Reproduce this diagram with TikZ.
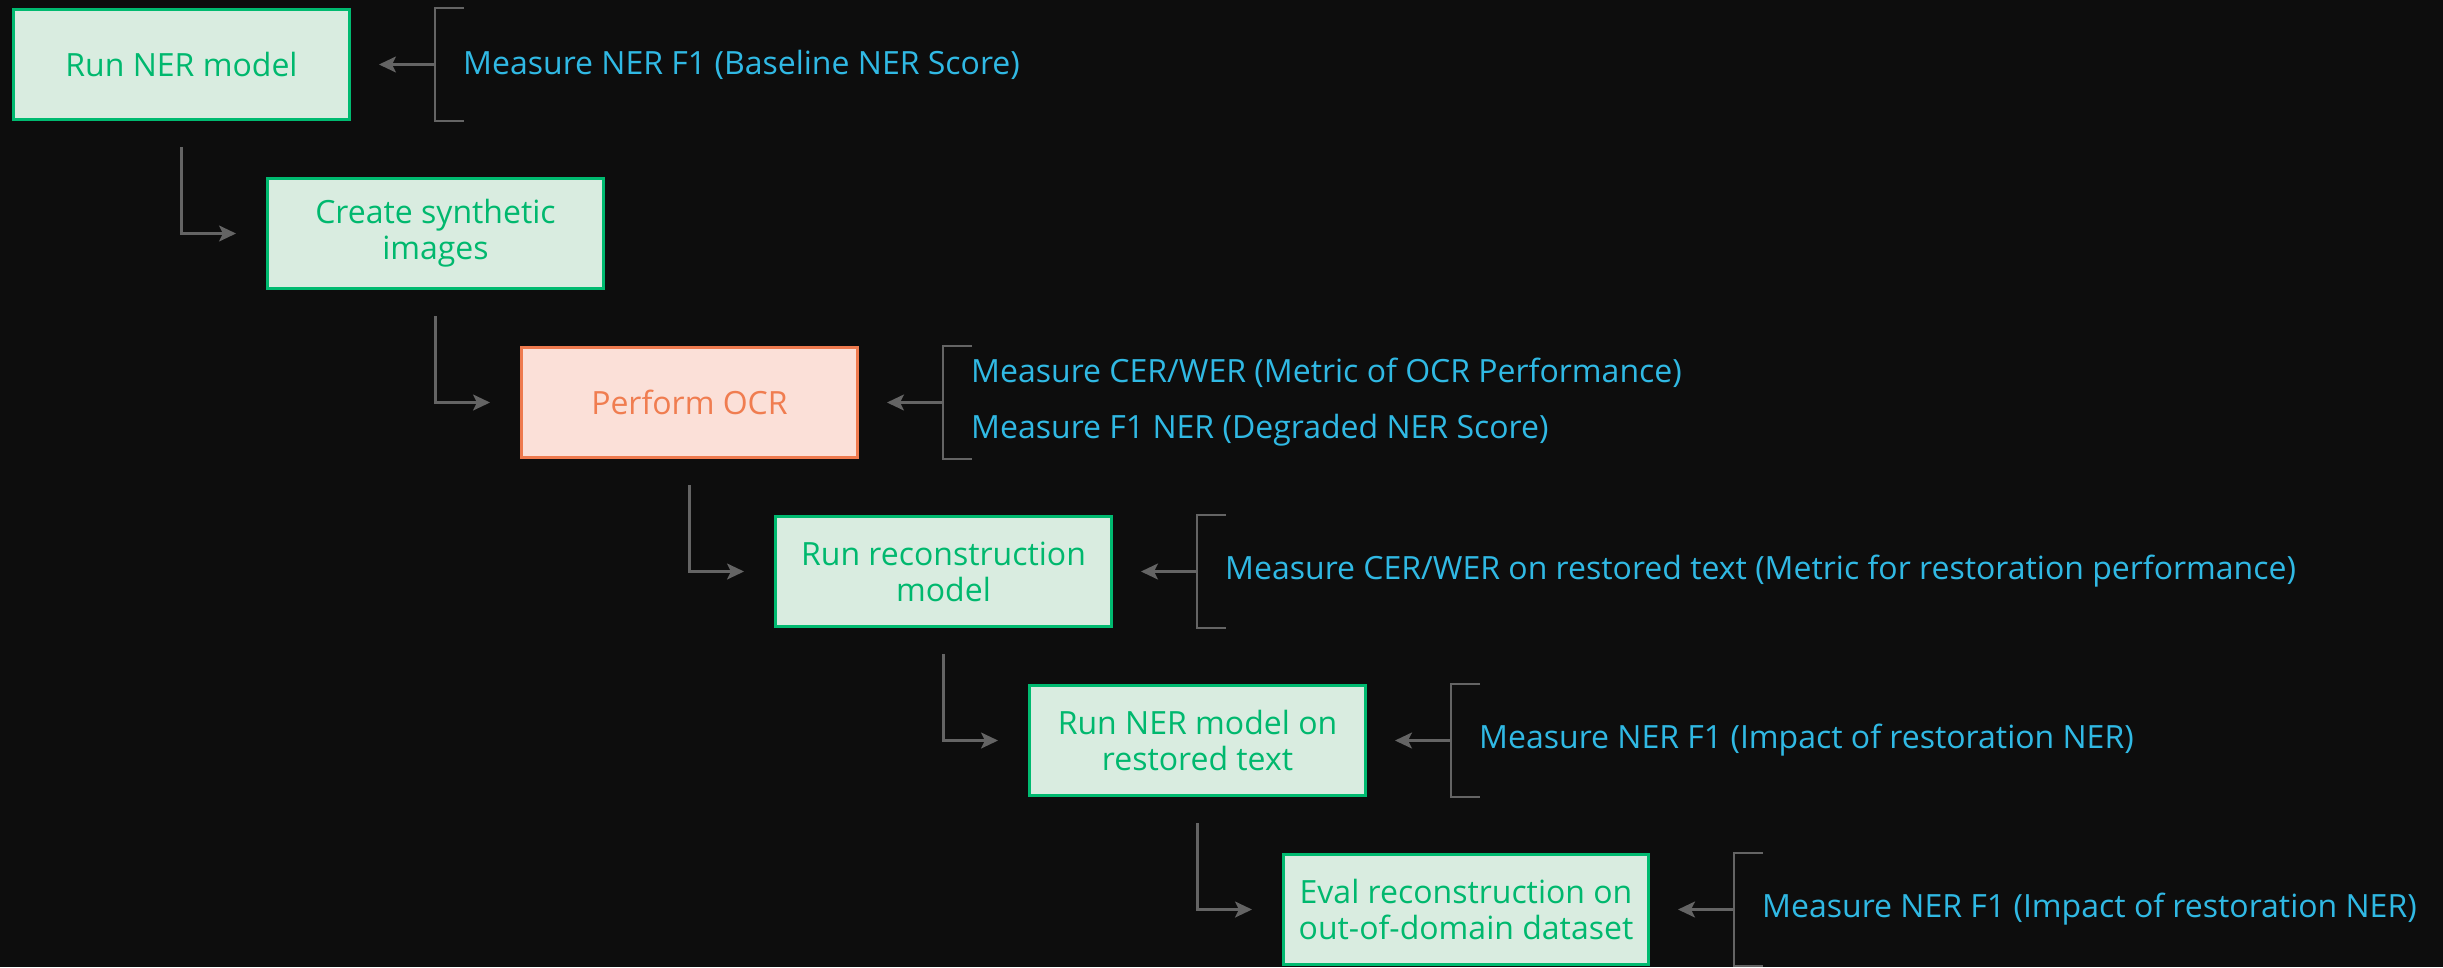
\documentclass[tikz,border=0pt]{standalone}
\usepackage{fontspec}
\setmainfont{Open Sans}
\usepackage{tikz}
\usetikzlibrary{arrows.meta, positioning}
\definecolor{bg}{RGB}{13,13,13}
\definecolor{taskfill}{RGB}{217,236,224}
\definecolor{taskline}{RGB}{0,186,112}
\definecolor{tasktext}{RGB}{0,184,110}
\definecolor{ocrfill}{RGB}{251,224,216}
\definecolor{ocrline}{RGB}{238,122,78}
\definecolor{ocrtext}{RGB}{240,125,80}
\definecolor{metrictext}{RGB}{48,185,228}
\definecolor{pathgrey}{RGB}{100,100,100}
\tikzstyle{block} = [minimum width=336pt, minimum height=110pt, line width=3pt, rectangle, align=center, font=\fontsize{32}{36}\selectfont, inner sep=4pt]
\tikzstyle{task} = [draw=taskline, block, fill=taskfill, text=tasktext]
\tikzstyle{ocrtask} = [draw=ocrline, block, fill=ocrfill, text=ocrtext]
\tikzstyle{metric} = [font=\fontsize{32}{36}\selectfont, text=metrictext, align=left, inner sep=0pt]
\tikzstyle{path} = [-{Stealth[length=17pt, width=16pt, inset=4pt]}, line width=2.5pt, pathgrey]
\tikzstyle{bracket} = [line width=2.5pt, pathgrey]

\begin{document}
\begin{tikzpicture}[node distance=56pt]
    % Background.
    \fill [bg] (0,0) rectangle (2443pt,-967pt);
    \useasboundingbox (0,0) rectangle (2443pt,-967pt);

    % Steps.
    \node (ner) [task, anchor=north west] at (12pt,-8pt) {Run NER model};
    \node (synth) [task, below=of ner.south west, anchor=north west, xshift=254pt] {Create synthetic\\images};
    \node (ocr) [ocrtask, below=of synth.south west, anchor=north west, xshift=254pt] {Perform OCR};
    \node (recon) [task, below=of ocr.south west, anchor=north west, xshift=254pt] {Run reconstruction\\model};
    \node (nerrest) [task, below=of recon.south west, anchor=north west, xshift=254pt] {Run NER model on\\restored text};
    \node (eval) [task, minimum width=365pt, below=of nerrest.south west, anchor=north west, xshift=254pt] {Eval reconstruction on\\out-of-domain dataset};

    % Metrics.
    \node (m-ner) [metric, right=112pt of ner] {Measure NER F1 (Baseline NER Score)};
    \node (m-ocr) [metric, right=112pt of ocr] {Measure CER/WER (Metric of OCR Performance)\\[20pt]Measure F1 NER (Degraded NER Score)};
    \node (m-recon) [metric, right=112pt of recon] {Measure CER/WER on restored text (Metric for restoration performance)};
    \node (m-nerrest) [metric, right=112pt of nerrest] {Measure NER F1 (Impact of restoration NER)};
    \node (m-eval) [metric, right=112pt of eval] {Measure NER F1 (Impact of restoration NER)};

    % Arrows.
    \foreach \a/\b in {ner/synth, synth/ocr, ocr/recon, recon/nerrest, nerrest/eval} {
        \draw [path] ([yshift=-26pt]\a.south) |- ([xshift=-30pt]\b.west);
    }

    \foreach \b in {ner, ocr, recon, nerrest, eval} {
        \draw [bracket] ([xshift=113pt]\b.north east) -- ([xshift=84pt]\b.north east) -- ([xshift=84pt]\b.south east) -- ([xshift=113pt]\b.south east);
        \draw [path] ([xshift=84pt]\b.east) -- ([xshift=28pt]\b.east);
    }
\end{tikzpicture}
\end{document}
